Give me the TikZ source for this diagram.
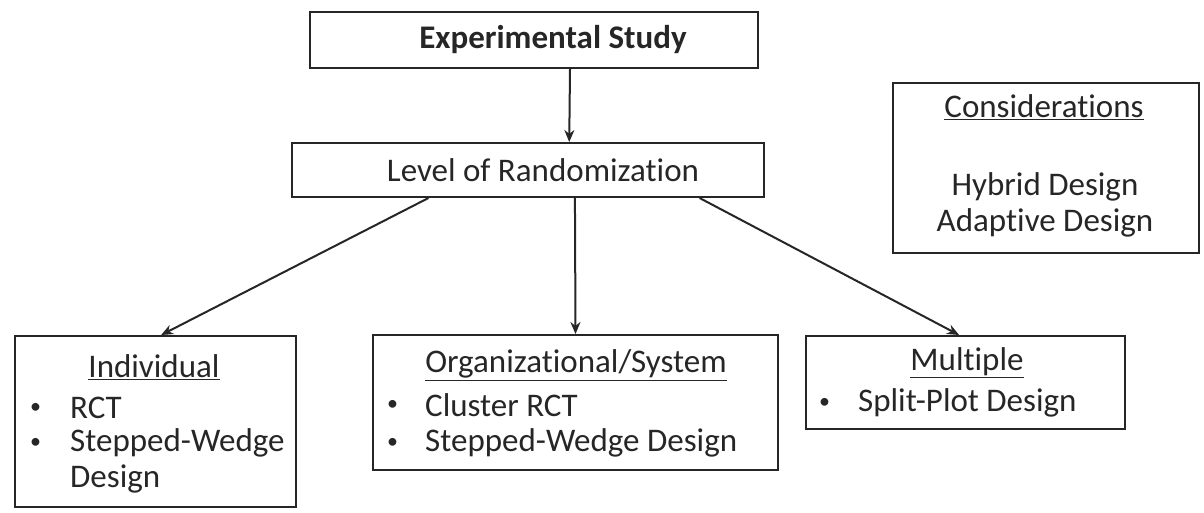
\documentclass[tikz,border=0pt]{standalone}
\usepackage{fontspec}
\setmainfont{Carlito}[Ligatures=NoCommon]
\usetikzlibrary{arrows.meta,calc}
\tikzset{
  box/.style={draw=black!85, line width=2pt, rectangle, inner sep=0pt, fill=none},
  txt/.style={inner sep=0pt, font=\fontsize{33}{36}\selectfont, text=black!85},
  lft/.style={txt, anchor=west},
  bul/.style={inner sep=0pt, font=\fontsize{22}{22}\selectfont, text=black!85, anchor=west},
  arr/.style={draw=black!85, line width=2pt, -{Stealth[length=12pt,width=10pt]}},
}
\begin{document}
\begin{tikzpicture}[x=1pt,y=1pt]
\useasboundingbox (0,0) rectangle (1204,-512);
% boxes
\node[box, minimum width=448, minimum height=56] (exp) at (534,-40) {};
\node[box, minimum width=472, minimum height=54] (lev) at (528,-170) {};
\node[box, minimum width=281, minimum height=171] (ind) at (155.5,-421.5) {};
\node[box, minimum width=405, minimum height=135] (org) at (575.5,-402.5) {};
\node[box, minimum width=319, minimum height=93] (mul) at (965.5,-382.5) {};
\node[box, minimum width=306, minimum height=170] (con) at (1046,-168) {};
% texts
\node[txt, font=\fontsize{33}{36}\selectfont\bfseries] (tExp) at (553,-40) {Experimental Study};
\node[txt] (tLev) at (543,-170) {Level of Randomization};
\node[txt] (hInd) at (154,-367) {\underline{Individual}};
\node[bul] (bI1) at (30,-408) {•};
\node[lft] (iI1) at (70,-408) {RCT};
\node[bul] (bI2) at (30,-443) {•};
\node[lft] (iI2) at (70,-443) {Stepped-Wedge};
\node[lft] (iI3) at (70,-479) {Design};
\node[txt] (hOrg) at (576,-365) {\underline{Organizational/System}};
\node[bul] (bO1) at (387,-405) {•};
\node[lft] (iO1) at (425,-405) {Cluster RCT};
\node[bul] (bO2) at (387,-443) {•};
\node[lft] (iO2) at (425,-443) {Stepped-Wedge Design};
\node[txt] (hMul) at (967,-363) {\underline{Multiple}};
\node[bul] (bM1) at (819,-403) {•};
\node[lft] (iM1) at (858,-403) {Split-Plot Design};
\node[txt] (hCon) at (1044,-107) {\underline{Considerations}};
\node[txt] (c1) at (1045,-187) {Hybrid Design};
\node[txt] (c2) at (1045,-223) {Adaptive Design};
% connectors
\draw[arr] ($(exp.south west)!0.58!(exp.south east)$) -- ($(lev.north west)!0.587!(lev.north east)$);
\draw[arr] ($(lev.south west)!0.29!(lev.south east)$) -- ($(ind.north west)!0.52!(ind.north east)$);
\draw[arr] ($(lev.south west)!0.599!(lev.south east)$) -- (org.north);
\draw[arr] ($(lev.south west)!0.862!(lev.south east)$) -- ($(mul.north west)!0.48!(mul.north east)$);
\end{tikzpicture}
\end{document}
